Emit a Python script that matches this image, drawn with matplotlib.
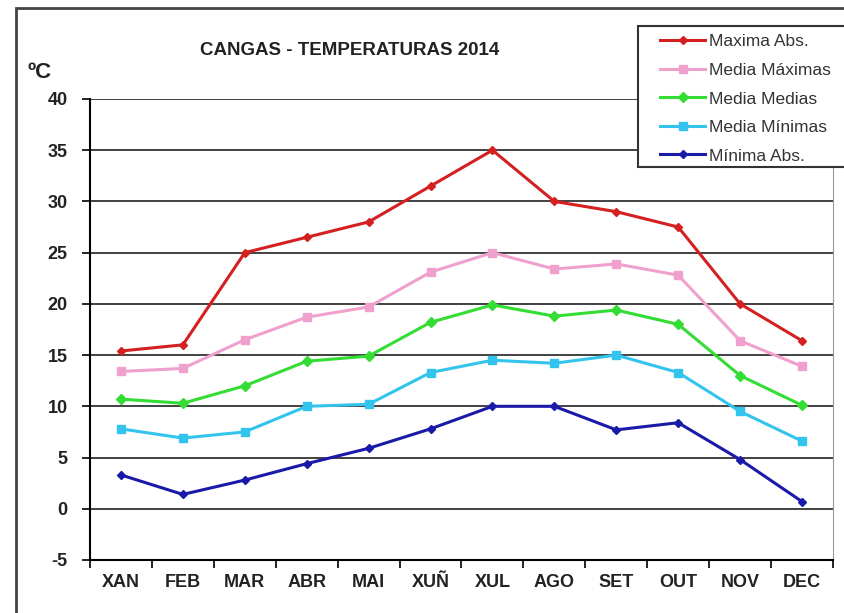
import matplotlib
matplotlib.use('Agg')
import matplotlib.pyplot as plt
from matplotlib.patches import Rectangle

plt.rcParams['font.family'] = ['Liberation Sans', 'DejaVu Sans']
plt.rcParams['axes.unicode_minus'] = False

meses = ['XAN', 'FEB', 'MAR', 'ABR', 'MAI', 'XUÑ', 'XUL', 'AGO', 'SET', 'OUT', 'NOV', 'DEC']

maxima_abs = [15.4, 16.0, 25.0, 26.5, 28.0, 31.5, 35.0, 30.0, 29.0, 27.5, 20.0, 16.4]
media_maximas = [13.4, 13.7, 16.5, 18.7, 19.7, 23.1, 25.0, 23.4, 23.9, 22.8, 16.4, 13.9]
media_medias = [10.7, 10.3, 12.0, 14.4, 14.9, 18.2, 19.9, 18.8, 19.4, 18.0, 13.0, 10.1]
media_minimas = [7.8, 6.9, 7.5, 10.0, 10.2, 13.3, 14.5, 14.2, 15.0, 13.3, 9.5, 6.6]
minima_abs = [3.3, 1.4, 2.8, 4.4, 5.9, 7.8, 10.0, 10.0, 7.7, 8.4, 4.8, 0.7]

series = [
    ('Maxima Abs.', maxima_abs, '#d42020', 'D', 4),
    ('Media Máximas', media_maximas, '#f0a0cc', 's', 6),
    ('Media Medias', media_medias, '#33dd33', 'D', 5),
    ('Media Mínimas', media_minimas, '#33c4ee', 's', 6),
    ('Mínima Abs.', minima_abs, '#1a1aa8', 'D', 4),
]

fig = plt.figure(figsize=(8.45, 6.13), dpi=100)
ax = fig.add_axes([0.1065, 0.0865, 0.8793, 0.752])

x = list(range(len(meses)))
for nome, valores, cor, marca, tam in series:
    ax.plot(x, valores, color=cor, linewidth=2.2, marker=marca, markersize=tam,
            label=nome)

ax.set_xlim(-0.5, len(meses) - 0.5)
ax.set_ylim(-5, 40)
ax.set_yticks(range(-5, 41, 5))
# ticks between months, labels centred on each month
ax.set_xticks([i - 0.5 for i in range(len(meses) + 1)], minor=False)
ax.set_xticklabels([])
ax.set_xticks(x, minor=True)
ax.set_xticklabels(meses, minor=True)
ax.tick_params(axis='x', which='minor', length=0, pad=10, labelsize=13)
ax.tick_params(axis='x', which='major', length=6, width=1.2, direction='out')
ax.tick_params(axis='y', length=6, width=1.2, direction='out', labelsize=13, pad=10)
for lab in ax.get_xticklabels(minor=True) + ax.get_yticklabels():
    lab.set_fontweight('bold')
    lab.set_color('#222222')

ax.grid(axis='y', color='#333333', linewidth=1.3)
ax.set_axisbelow(True)
ax.spines['top'].set_visible(False)
ax.spines['right'].set_color('#999999')
ax.spines['left'].set_linewidth(1.5)
ax.spines['bottom'].set_linewidth(1.5)

fig.text(0.414, 0.918, 'CANGAS - TEMPERATURAS 2014', ha='center', va='center',
         fontsize=13.5, fontweight='bold', color='#222222')
fig.text(0.032, 0.881, 'ºC', ha='left', va='center', fontsize=16,
         fontweight='bold', color='#222222')

# legend without its own frame; white box drawn separately (it runs off the right edge)
fig.add_artist(Rectangle((0.755, 0.7276), 0.3, 0.230, transform=fig.transFigure,
                         facecolor='white', edgecolor='#333333', linewidth=1.5,
                         zorder=4))
leg = fig.legend(loc='upper left', bbox_to_anchor=(0.781, 0.944),
                 fontsize=12.5, handlelength=2.6, handletextpad=0.25,
                 labelspacing=0.77, borderpad=0, frameon=False, borderaxespad=0)
leg.set_zorder(5)
for t in leg.get_texts():
    t.set_color('#333333')

fig.add_artist(Rectangle((0.019, -0.1), 1.1, 1.087, transform=fig.transFigure,
                         fill=False, edgecolor='#444444', linewidth=2))

fig.savefig('out.png', dpi=100)
